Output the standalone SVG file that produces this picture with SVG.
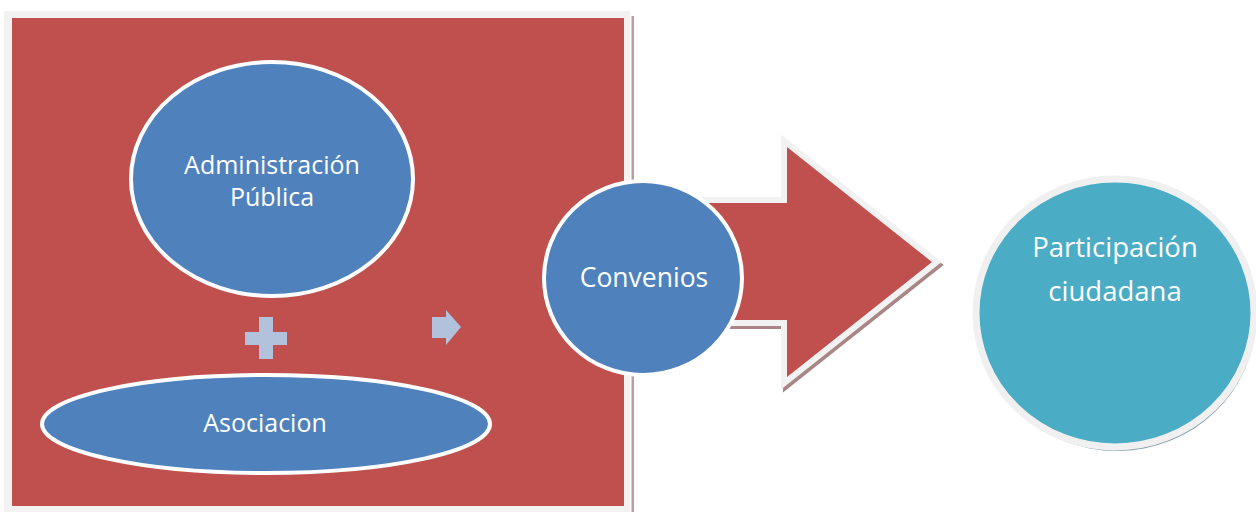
<svg xmlns="http://www.w3.org/2000/svg" width="1256" height="512" viewBox="0 0 1256 512">
  <style>
    .lbl { font-family: "Open Sans", "Noto Sans", "Liberation Sans", sans-serif; fill: #ffffff; text-anchor: middle; }
    .blue { fill: #4F81BD; stroke: #ffffff; stroke-width: 4; }
    .deco { fill: #B3C2DC; }
  </style>
  <rect width="1256" height="512" fill="#ffffff"/>

  <g id="panel">
    <rect x="631.5" y="16" width="2.5" height="496" fill="#bc9c9c"/>
    <rect x="4" y="11" width="626" height="501" fill="#F2F2F2"/>
    <rect x="12" y="18" width="612" height="488" fill="#C0504D"/>
  </g>

  <g id="connectors">
    <g id="big-arrow">
      <polygon points="660,203 787,203 787,147 932,262 787,377 787,320 660,320" transform="translate(2,3)" fill="#a98585" stroke="#a98585" stroke-width="12" stroke-linejoin="miter"/>
      <polygon points="660,203 787,203 787,147 932,262 787,377 787,320 660,320" fill="#C0504D" stroke="#F2F2F2" stroke-width="12" stroke-linejoin="miter" paint-order="stroke"/>
    </g>
    <g id="plus">
      <rect class="deco" x="259" y="317" width="14" height="42"/>
      <rect class="deco" x="245" y="332" width="42" height="13"/>
    </g>
    <polygon id="small-arrow" class="deco" points="432,317 446,317 446,310 461,327 446,345 446,338 432,338"/>
  </g>

  <g id="admin">
    <ellipse class="blue" cx="272" cy="179" rx="141" ry="117"/>
    <text class="lbl" x="272" y="174" font-size="25">Administración</text>
    <text class="lbl" x="272" y="206" font-size="25">Pública</text>
  </g>

  <g id="asociacion">
    <ellipse class="blue" cx="266" cy="424" rx="224" ry="49"/>
    <text class="lbl" x="265" y="432" font-size="25">Asociacion</text>
  </g>

  <g id="convenios">
    <ellipse class="blue" cx="643" cy="278" rx="99" ry="97"/>
    <text class="lbl" x="644" y="287" font-size="26.5">Convenios</text>
  </g>

  <g id="participacion">
    <ellipse cx="1117" cy="317" rx="139" ry="134" fill="#8aa4ad"/>
    <ellipse cx="1115" cy="313" rx="139" ry="134" fill="#4BACC6" stroke="#F0F0F0" stroke-width="7"/>
    <text class="lbl" x="1115" y="257" font-size="27.5">Participación</text>
    <text class="lbl" x="1115" y="301" font-size="27.5">ciudadana</text>
  </g>
</svg>
